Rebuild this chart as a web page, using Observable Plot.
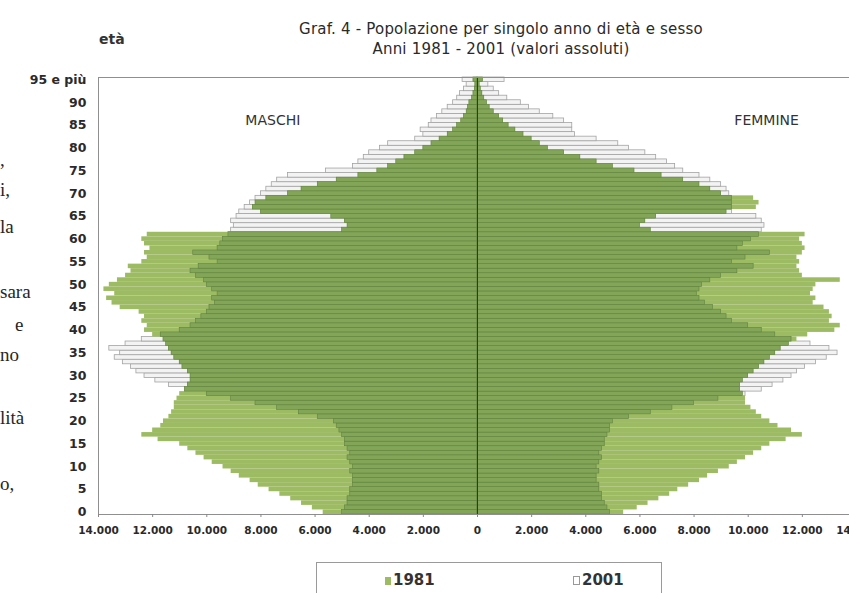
<!DOCTYPE html>
<html><head><meta charset="utf-8">
<script src="https://cdn.jsdelivr.net/npm/d3@7"></script>
<script src="https://cdn.jsdelivr.net/npm/@observablehq/plot@0.6"></script>
<style>
html,body{margin:0;padding:0;background:#fff;}
#page{position:relative;width:849px;height:593px;overflow:hidden;font-family:"DejaVu Sans",Verdana,sans-serif;color:#222;background:#fff;}
.t{position:absolute;white-space:nowrap;}
.title{left:201px;width:600px;text-align:center;font-size:15px;letter-spacing:0.2px;color:#2a2a2a;}
.scan{font-family:"Liberation Serif","DejaVu Serif",serif;font-size:19px;line-height:24px;color:#262626;}
#chart{position:absolute;left:0;top:60px;width:870px;}
#chart svg{max-width:none !important;width:870px;height:500px;}
#legend{position:absolute;left:316px;top:562px;width:344px;height:40px;border:1px solid #9a9a9a;background:#fff;}
.sw{display:inline-block;width:6px;height:8px;vertical-align:0px;margin-right:2px;}
.lg{font-size:15px;font-weight:bold;color:#333;top:8px;}
</style></head>
<body><div id="page">
<div class="t" style="left:99px;top:31px;font-size:14px;font-weight:bold;color:#333;">età</div>
<div class="t title" style="top:20px;">Graf. 4 - Popolazione per singolo anno di età e sesso</div>
<div class="t title" style="top:40px;">Anni 1981 - 2001 (valori assoluti)</div>
<div class="t scan" style="left:0px;top:148px;">,</div>
<div class="t scan" style="left:0px;top:178px;">i,</div>
<div class="t scan" style="left:0px;top:215px;">la</div>
<div class="t scan" style="left:0px;top:280px;">sara</div>
<div class="t scan" style="left:15px;top:313px;">e</div>
<div class="t scan" style="left:0px;top:343px;">no</div>
<div class="t scan" style="left:0px;top:406px;">lità</div>
<div class="t scan" style="left:0px;top:472px;">o,</div>
<div id="chart"></div>
<div id="legend">
  <div class="t lg" style="left:68px;"><span class="sw" style="background:#9dbb63;"></span>1981</div>
  <div class="t lg" style="left:256px;"><span class="sw" style="background:#fff;border:1px solid #999;width:5px;height:7px;"></span>2001</div>
</div>
</div>
<script>
const ages = d3.range(0, 96);
const maschi1981 = [
 5700,6100,6500,6900,7300,7700,8100,8400,8800,9100,
 9400,9800,10100,10400,10700,11000,11800,12400,12000,11700,
 11600,11400,11300,11200,11200,11100,11000,10800,10700,10600,
 10600,10700,10900,11000,11200,11300,11400,11500,11600,12000,
 12300,12200,12400,12300,12500,13200,13500,13700,13400,13800,
 13600,13300,13000,12800,12900,12400,12200,12300,12100,12300,
 12400,12200,5000,4800,4900,5400,8000,8300,8200,7800,
 7000,6500,5900,5200,4400,3700,3300,3000,2700,2300,
 2000,1700,1400,1100,900,750,600,500,400,350,
 300,200,150,100,80,150];
const maschi2001 = [
 5000,4900,4800,4800,4700,4700,4600,4600,4600,4700,
 4600,4700,4800,4700,4800,4900,4900,5000,5100,5200,
 5300,5900,6600,7400,8200,9100,10000,10800,11400,11900,
 12300,12600,12800,13100,13400,13200,13600,13000,12400,11700,
 11000,10600,10400,10200,10000,9900,9700,9800,9600,9800,
 10000,10100,10400,10600,10300,9600,9900,10500,9600,9500,
 9400,9200,9100,9000,9100,8900,8800,8600,8400,8200,
 8000,7800,7600,7400,7000,5600,4600,4400,4200,4000,
 3600,3300,2300,2000,2100,1800,1700,1500,1300,1100,
 900,750,650,500,400,550];
const femmine1981 = [
 5400,5900,6300,6700,7100,7400,7800,8200,8500,8900,
 9300,9600,9900,10200,10500,10800,11400,12000,11600,11100,
 10800,10500,10300,10100,9900,9900,9800,9700,9700,9800,
 10000,10200,10400,10600,10800,11000,11200,11500,11800,12200,
 13200,13400,13000,13100,13000,12800,12400,12500,12300,12400,
 12500,13400,12000,11900,11800,11900,11800,12000,12100,12000,
 11900,12100,6400,6000,6200,6600,9200,10300,10400,10200,
 9000,8600,8200,7600,6800,5800,5000,4400,3800,3200,
 2600,2300,2000,1700,1400,1150,950,800,600,450,
 350,250,180,120,80,200];
const femmine2001 = [
 4900,4800,4700,4600,4600,4500,4500,4400,4400,4500,
 4400,4500,4600,4500,4600,4700,4700,4800,4900,4900,
 5000,5600,6400,7200,8000,8900,9900,10500,10900,11300,
 11600,11800,12100,12500,12900,13300,13000,12300,11600,11000,
 10500,10000,9400,9200,9000,8700,8400,8200,8100,8200,
 8300,8600,9000,9600,10200,9400,9900,10800,9600,9800,
 10100,10400,10500,10600,10500,10300,9400,9400,9400,9400,
 9300,9200,9000,8600,8200,7600,7300,7000,6600,6200,
 5600,5200,4400,3600,3500,3500,3200,2800,2300,1900,
 1600,1100,800,600,400,1000];
const yTicks = [0,5,10,15,20,25,30,35,40,45,50,55,60,65,70,75,80,85,90,95];
const xTicks = [-14000,-12000,-10000,-8000,-6000,-4000,-2000,0,2000,4000,6000,8000,10000,12000,14000];
const etichetteSesso = ["MASCHI", "FEMMINE"];

const side = (vals, sign) => ages.map((a, i) => ({age: a, v: sign * vals[i]}));
const both = (a, b, sign) => ages.map((age, i) => ({age, v: sign * Math.min(a[i], b[i])}));
const r2001 = [...side(maschi2001, -1), ...side(femmine2001, 1)];
const r1981 = [...side(maschi1981, -1), ...side(femmine1981, 1)];
const rOver = [...both(maschi1981, maschi2001, -1), ...both(femmine1981, femmine2001, 1)];
const fmt = d => d3.format(",")(Math.abs(d)).replace(/,/g, ".");

const chart = Plot.plot({
  width: 870, height: 500,
  marginTop: 17, marginBottom: 46, marginLeft: 98, marginRight: 14,
  style: {fontFamily: "DejaVu Sans, sans-serif", background: "transparent", color: "#2a2a2a", maxWidth: "none"},
  x: {domain: [-14000, 14000], label: null},
  y: {type: "band", domain: ages.slice().reverse(), padding: 0, label: null},
  marks: [
    Plot.barX(r2001, {x: "v", y: "age", fill: "#f3f3f3", stroke: "#a3a3a3", strokeWidth: 0.8}),
    Plot.barX(r1981, {x: "v", y: "age", fill: "#9dbb63"}),
    Plot.barX(rOver, {x: "v", y: "age", fill: "#82a558", stroke: "#62833f", strokeWidth: 0.6}),
    Plot.ruleX([0], {stroke: "#2f3d26", strokeWidth: 1}),
    Plot.frame({stroke: "#8f8f8f"}),
    Plot.axisY(yTicks, {tickSize: 0, tickPadding: 12, tickFormat: d => d === 95 ? "95 e più" : String(d), fontSize: 12.5, fontWeight: "bold", label: null}),
    Plot.axisX(xTicks, {tickSize: 3, tickPadding: 9, tickFormat: fmt, fontSize: 10.5, fontWeight: "bold", stroke: "#888", label: null}),
    Plot.text([etichetteSesso[0]], {x: -7560, y: 86, text: d => d, fontSize: 14, fill: "#333"}),
    Plot.text([etichetteSesso[1]], {x: 10680, y: 86, text: d => d, fontSize: 14, fill: "#333"})
  ]
});
document.getElementById("chart").appendChild(chart);
</script>
</body></html>
